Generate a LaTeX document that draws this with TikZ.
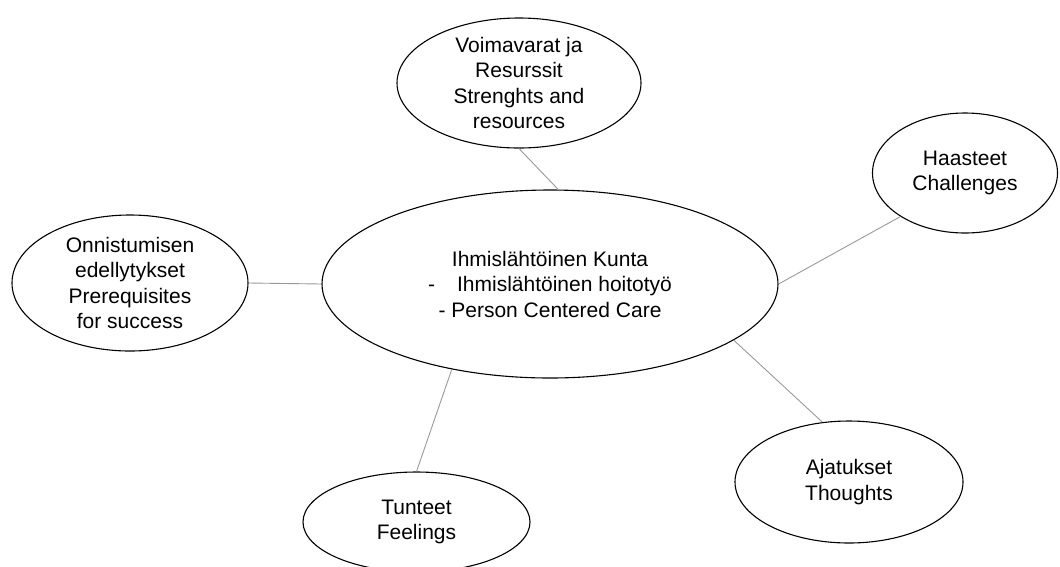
\documentclass[tikz,border=0pt]{standalone}
\usepackage{fontspec}
\setmainfont{Liberation Sans}
\usepackage{tikz}
\usetikzlibrary{shapes.geometric}
\tikzset{
  bubble/.style={ellipse, draw=black, line width=1.1pt, fill=white, inner sep=0pt,
    align=center, font=\fontsize{21}{25.5}\selectfont},
  link/.style={draw=gray!80, line width=0.9pt},
}

\begin{document}
\begin{tikzpicture}[x=1pt,y=-1pt]
  \useasboundingbox (0,0) rectangle (1060,566);
  \node[bubble, minimum width=456pt, minimum height=188pt] (kunta) at (550,284)
    {Ihmislähtöinen Kunta\\-\hspace{1.05em}Ihmislähtöinen hoitotyö\\- Person Centered Care};
  \node[bubble, minimum width=244pt, minimum height=128pt] (voima) at (519,83)
    {Voimavarat ja\\Resurssit\\Strenghts and\\resources};
  \node[bubble, minimum width=185pt, minimum height=120pt] (haaste) at (965,173)
    {Haasteet\\Challenges};
  \node[bubble, minimum width=236pt, minimum height=136pt] (onni) at (130,283)
    {Onnistumisen\\edellytykset\\Prerequisites\\for success};
  \node[bubble, minimum width=227pt, minimum height=100pt] (tunne) at (416.5,522)
    {Tunteet\\Feelings};
  \node[bubble, minimum width=228pt, minimum height=122pt] (ajatus) at (849,482)
    {Ajatukset\\Thoughts};
  % connectors
  \draw[link] (voima.south) -- (kunta.85.6);
  \draw[link] (haaste.214.9) -- (kunta.east);
  \draw[link] (onni.east) -- (kunta.west);
  \draw[link] (tunne.north) -- (kunta.221.3);
  \draw[link] (ajatus.114.5) -- (kunta.-17);
\end{tikzpicture}
\end{document}
